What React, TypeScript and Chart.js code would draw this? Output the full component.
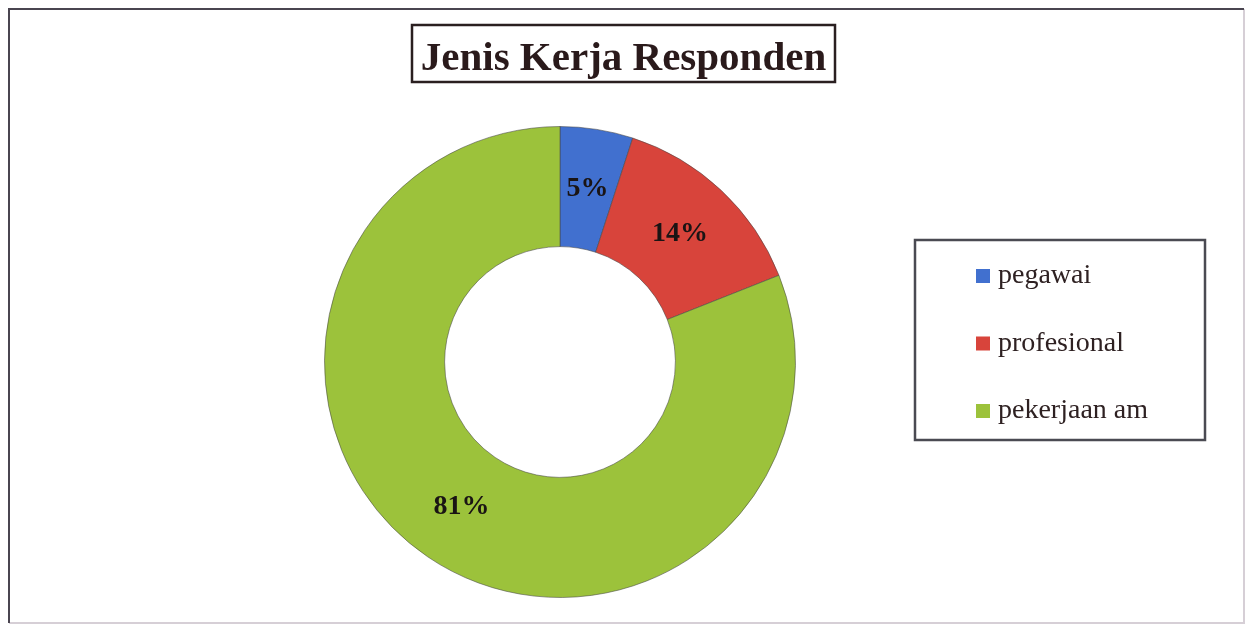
import React, { useEffect, useRef } from "react";
import { Chart, registerables } from "chart.js";

Chart.register(...registerables);

const TITLE = "Jenis Kerja Responden";
const CATEGORIES = ["pegawai", "profesional", "pekerjaan am"];
const VALUES = [5, 14, 81];
const COLORS = ["#4170cf", "#d8443b", "#9cc23b"];

const SERIF = '"Liberation Serif", "Times New Roman", serif';

const overlayPlugin = {
  id: "overlay",
  afterDraw(chart: any) {
    const ctx = chart.ctx as CanvasRenderingContext2D;
    const W = chart.width;
    const H = chart.height;
    ctx.save();

    // outer frame
    ctx.lineWidth = 2;
    ctx.strokeStyle = "#d6cfd6";
    ctx.beginPath();
    ctx.moveTo(W - 1, 1);
    ctx.lineTo(W - 1, H - 1);
    ctx.lineTo(1, H - 1);
    ctx.stroke();
    ctx.strokeStyle = "#4a4550";
    ctx.beginPath();
    ctx.moveTo(1, H - 1);
    ctx.lineTo(1, 1);
    ctx.lineTo(W - 1, 1);
    ctx.stroke();

    // title box
    ctx.lineWidth = 2.5;
    ctx.strokeStyle = "#2a1f20";
    ctx.strokeRect(404, 17, 423, 57);
    ctx.fillStyle = "#2a1a1b";
    ctx.font = `bold 41px ${SERIF}`;
    ctx.textAlign = "center";
    ctx.textBaseline = "alphabetic";
    ctx.fillText(TITLE, 615.5, 62);

    // legend box
    ctx.lineWidth = 2.5;
    ctx.strokeStyle = "#4a4a52";
    ctx.strokeRect(907, 232, 290, 200);
    const ds = chart.data.datasets[0];
    const labels = chart.data.labels as string[];
    ctx.font = `28px ${SERIF}`;
    ctx.textAlign = "left";
    ctx.textBaseline = "middle";
    labels.forEach((lab, i) => {
      const cy = 268 + i * 67.5;
      ctx.fillStyle = (ds.backgroundColor as string[])[i];
      ctx.fillRect(968, cy - 7, 14, 14);
      ctx.fillStyle = "#2e2122";
      ctx.fillText(lab, 990, cy);
    });

    // percentage labels
    const meta = chart.getDatasetMeta(0);
    const data = ds.data as number[];
    const total = data.reduce((a, b) => a + b, 0);
    ctx.font = `bold 28px ${SERIF}`;
    ctx.textAlign = "center";
    ctx.textBaseline = "middle";
    ctx.fillStyle = "#1a1414";
    meta.data.forEach((arc: any, i: number) => {
      const p = arc.tooltipPosition();
      ctx.fillText(Math.round((data[i] / total) * 100) + "%", p.x, p.y);
    });

    ctx.restore();
  },
};

export default function App() {
  const ref = useRef<HTMLCanvasElement | null>(null);
  useEffect(() => {
    if (!ref.current) return;
    const chart = new Chart(ref.current, {
      type: "doughnut",
      data: {
        labels: CATEGORIES,
        datasets: [
          {
            data: VALUES,
            backgroundColor: COLORS,
            borderColor: "rgba(70,70,70,0.55)",
            borderWidth: 1,
            hoverOffset: 0,
          },
        ],
      },
      options: {
        animation: false,
        responsive: true,
        maintainAspectRatio: false,
        events: [],
        cutout: "49%",
        layout: { padding: { left: 316, right: 449, top: 118, bottom: 26 } },
        plugins: {
          legend: { display: false },
          tooltip: { enabled: false },
          title: { display: false },
        },
      },
      plugins: [overlayPlugin],
    });
    return () => chart.destroy();
  }, []);
  return (
    <div
      style={{
        position: "absolute",
        left: 8,
        top: 8,
        width: 1237,
        height: 616,
        background: "#ffffff",
      }}
    >
      <canvas ref={ref} />
    </div>
  );
}
